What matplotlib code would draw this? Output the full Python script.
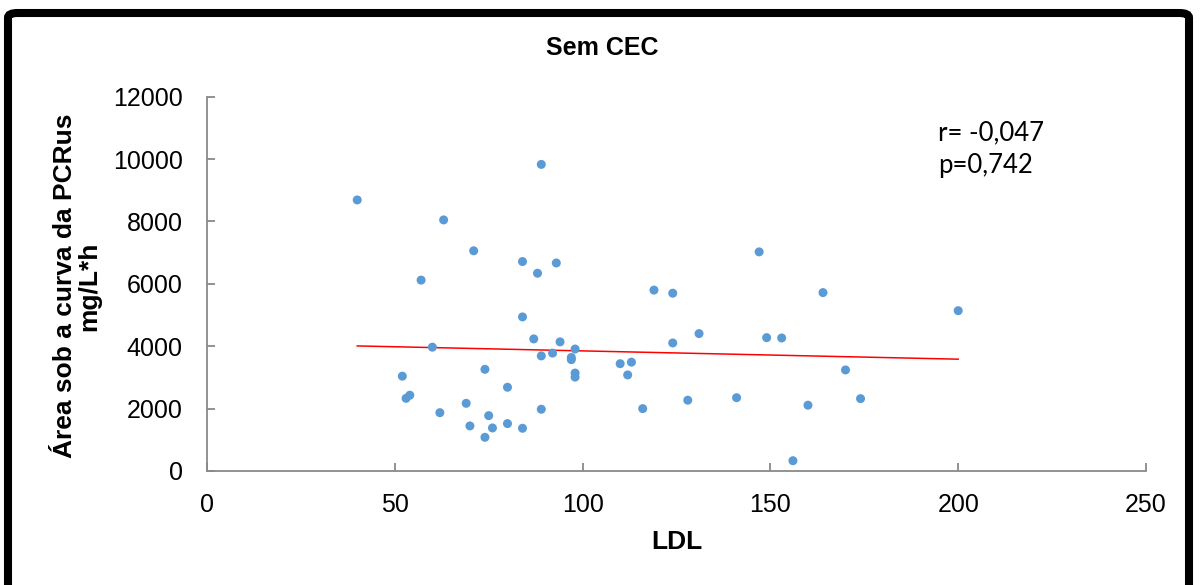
import matplotlib
matplotlib.use("Agg")
import matplotlib.pyplot as plt
from matplotlib.patches import FancyBboxPatch

# ---- data ----
ldl = [40, 89, 63, 71, 84, 93, 88, 57, 84, 87, 94, 98, 89, 92, 97, 97, 60, 52,
       74, 80, 54, 53, 69, 89, 62, 75, 70, 76, 80, 84, 74, 98, 98,
       147, 119, 124, 164, 200, 131, 124, 149, 153, 110, 113, 112, 170,
       116, 128, 141, 160, 174, 156]
auc = [8690, 9830, 8050, 7060, 6715, 6670, 6340, 6120, 4940, 4235, 4140, 3910,
       3690, 3780, 3640, 3570, 3970, 3040, 3260, 2685, 2430, 2330, 2170, 1980,
       1870, 1775, 1445, 1380, 1520, 1370, 1080, 3140, 3010,
       7025, 5800, 5700, 5720, 5140, 4405, 4105, 4275, 4265, 3440, 3490, 3080,
       3240, 2000, 2270, 2350, 2110, 2320, 330]
trend_x = [40, 200]
trend_y = [4010, 3585]
x_ticks = [0, 50, 100, 150, 200, 250]
y_ticks = [0, 2000, 4000, 6000, 8000, 10000, 12000]
title = "Sem CEC"
xlabel = "LDL"
ylabel = "Área sob a curva da PCRus\nmg/L*h"
stats_text = "r= -0,047\np=0,742"

W, H = 1203, 585
fig = plt.figure(figsize=(W / 100, H / 100), dpi=100)
fig.patch.set_facecolor("white")

# axes placement in pixels
x0, x1 = 207, 1146
y0, y1 = 471, 96.7
ax = fig.add_axes([x0 / W, 1 - y0 / H, (x1 - x0) / W, (y0 - y1) / H])

ax.scatter(ldl, auc, s=42, color="#5B9BD5", edgecolors="none", zorder=3)
ax.plot(trend_x, trend_y, color="red", lw=1.1, zorder=2)

ax.set_xlim(0, 250)
ax.set_ylim(0, 12000)
ax.set_xticks(x_ticks)
ax.set_yticks(y_ticks)
ax.set_xticklabels([str(v) for v in x_ticks])
ax.set_yticklabels([str(v) for v in y_ticks])

for s in ["top", "right"]:
    ax.spines[s].set_visible(False)
for s in ["left", "bottom"]:
    ax.spines[s].set_color("#898989")
    ax.spines[s].set_linewidth(1.3)

ax.tick_params(axis="both", direction="in", length=6, width=1.3, color="#898989",
               labelsize=18, labelcolor="black")
ax.tick_params(axis="x", pad=15.5)
ax.tick_params(axis="y", pad=17.5)
for lab in ax.get_xticklabels() + ax.get_yticklabels():
    lab.set_fontfamily("Liberation Sans")

fig.text(602.5 / W, 1 - 48 / H, title, ha="center", va="center",
         fontsize=18, fontweight="bold", family="Liberation Sans")
fig.text(677 / W, 1 - 542 / H, xlabel, ha="center", va="center",
         fontsize=19, fontweight="bold", family="Liberation Sans")
fig.text(77 / W, 1 - 286 / H, ylabel, ha="center", va="center", rotation=90,
         fontsize=19, fontweight="bold", family="Liberation Sans",
         linespacing=1.0, multialignment="center")

fig.text(938 / W, 1 - 149 / H, stats_text, ha="left", va="center",
         fontsize=18.5, family="Lato", linespacing=1.35)

# black rounded border
border = FancyBboxPatch((8 / W, -0.05), (1189 - 8) / W, (1 - 13 / H) + 0.05,
                        boxstyle="round,pad=0,rounding_size=0.008",
                        transform=fig.transFigure, fill=False,
                        edgecolor="black", linewidth=5.8, zorder=10)
fig.patches.append(border)

fig.savefig("out.png", dpi=100)
